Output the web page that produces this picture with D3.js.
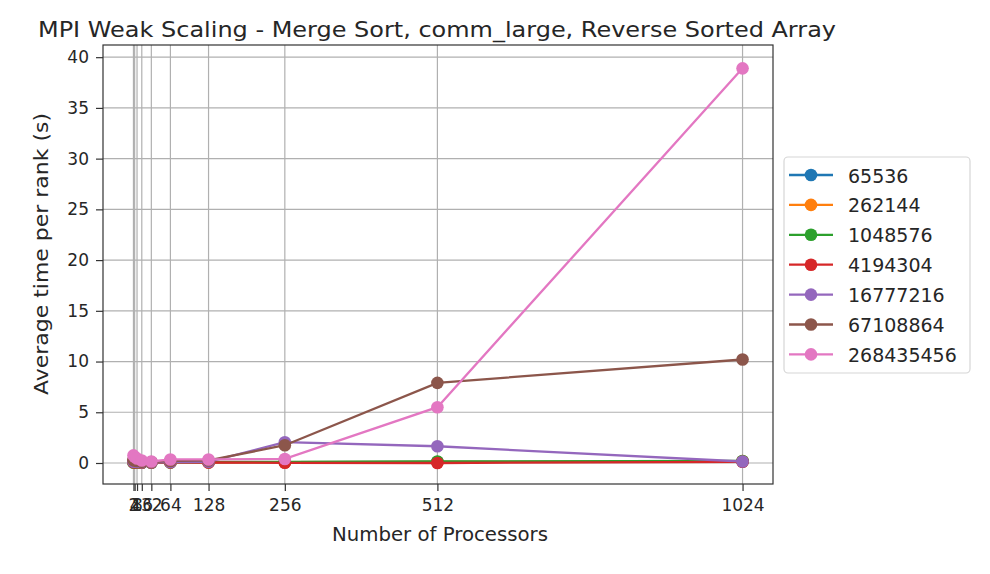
<!DOCTYPE html>
<html>
<head>
<meta charset="utf-8">
<script src="https://cdn.jsdelivr.net/npm/d3@7"></script>
<style>
  body { margin: 0; background: #fff; }
  svg { font-family: "DejaVu Sans", sans-serif; }
</style>
</head>
<body>
<svg id="chart" width="990" height="574"></svg>
<script>
// processor counts on the x axis
const procs = [2, 4, 8, 16, 32, 64, 128, 256, 512, 1024];
const yTicks = [0, 5, 10, 15, 20, 25, 30, 35, 40];

// input sizes (legend) and their timings
const sizes = ["65536", "262144", "1048576", "4194304", "16777216", "67108864", "268435456"];
const colors = ["#1f77b4", "#ff7f0e", "#2ca02c", "#d62728", "#9467bd", "#8c564b", "#e377c2"];

const t65536     = [0.05, 0.04, 0.04, 0.03, 0.03, 0.05, 0.06, 0.08, 0.1, 0.15];
const t262144    = [0.06, 0.05, 0.05, 0.04, 0.04, 0.06, 0.07, 0.08, 0.1, 0.18];
const t1048576   = [0.08, 0.07, 0.06, 0.05, 0.05, 0.08, 0.1, 0.12, 0.15, 0.2];
const t4194304   = [0.1, 0.08, 0.07, 0.05, 0.05, 0.06, 0.05, 0.02, 0.0, 0.12];
const t16777216  = [0.15, 0.12, 0.1, 0.08, 0.07, 0.1, 0.12, 2.05, 1.65, 0.15];
const t67108864  = [0.3, 0.25, 0.2, 0.12, 0.1, 0.2, 0.25, 1.75, 7.9, 10.2];
const t268435456 = [0.75, 0.6, 0.45, 0.25, 0.15, 0.35, 0.35, 0.4, 5.5, 38.9];

const series = [t65536, t262144, t1048576, t4194304, t16777216, t67108864, t268435456];

const svg = d3.select("#chart");
const margin = { left: 103, right: 773, top: 45, bottom: 484 };
const ink = "#262626";

const x = d3.scaleLinear().domain([-49.1, 1075.1]).range([margin.left, margin.right]);
const y = d3.scaleLinear().domain([-2.07, 41.2]).range([margin.bottom, margin.top]);

// grid
const grid = svg.append("g");
grid.selectAll(".gx").data(procs).enter().append("line")
    .attr("x1", d => x(d)).attr("x2", d => x(d))
    .attr("y1", margin.top).attr("y2", margin.bottom)
    .attr("stroke", "#b0b0b0").attr("stroke-width", 1.2);
grid.selectAll(".gy").data(yTicks).enter().append("line")
    .attr("x1", margin.left).attr("x2", margin.right)
    .attr("y1", d => y(d)).attr("y2", d => y(d))
    .attr("stroke", "#b0b0b0").attr("stroke-width", 1.2);

// axes
const xAxis = d3.axisBottom(x).tickValues(procs).tickSize(7).tickPadding(8).tickFormat(d3.format("d"));
const yAxis = d3.axisLeft(y).tickValues(yTicks).tickSize(7).tickPadding(7);

function styleAxis(g) {
    g.attr("font-family", "DejaVu Sans").attr("font-size", 17);
    g.select(".domain").remove();
    g.selectAll("line").attr("stroke", "#333").attr("stroke-width", 1.2);
    g.selectAll("text").attr("fill", ink);
}

svg.append("g").attr("transform", `translate(0,${margin.bottom})`).call(xAxis).call(styleAxis);
svg.append("g").attr("transform", `translate(${margin.left},0)`).call(yAxis).call(styleAxis);

// lines
const line = d3.line().x((d, i) => x(procs[i])).y(d => y(d));
const plot = svg.append("g");
series.forEach((s, k) => {
    plot.append("path").datum(s)
        .attr("d", line)
        .attr("fill", "none")
        .attr("stroke", colors[k])
        .attr("stroke-width", 2.3);
    plot.selectAll(".m" + k).data(s).enter().append("circle")
        .attr("cx", (d, i) => x(procs[i]))
        .attr("cy", d => y(d))
        .attr("r", 6.3)
        .attr("fill", colors[k]);
});

// frame
svg.append("rect")
    .attr("x", margin.left).attr("y", margin.top)
    .attr("width", margin.right - margin.left).attr("height", margin.bottom - margin.top)
    .attr("fill", "none").attr("stroke", "#333").attr("stroke-width", 1.2);

// labels
svg.append("text").attr("x", 437).attr("y", 37).attr("text-anchor", "middle")
    .attr("font-size", 22).attr("fill", ink)
    .attr("textLength", 798).attr("lengthAdjust", "spacingAndGlyphs")
    .text("MPI Weak Scaling - Merge Sort, comm_large, Reverse Sorted Array");
svg.append("text").attr("x", 440).attr("y", 541).attr("text-anchor", "middle")
    .attr("font-size", 20).attr("fill", ink)
    .attr("textLength", 216).attr("lengthAdjust", "spacingAndGlyphs")
    .text("Number of Processors");
svg.append("text").attr("transform", "translate(48,254) rotate(-90)").attr("text-anchor", "middle")
    .attr("font-size", 20).attr("fill", ink)
    .attr("textLength", 282).attr("lengthAdjust", "spacingAndGlyphs")
    .text("Average time per rank (s)");

// legend
const legend = svg.append("g");
legend.append("rect")
    .attr("x", 784).attr("y", 157).attr("width", 186).attr("height", 216)
    .attr("rx", 4).attr("fill", "#fff").attr("stroke", "#d6d6d6").attr("stroke-width", 1.2);
sizes.forEach((name, k) => {
    const ly = 175 + k * 29.9;
    legend.append("line").attr("x1", 789).attr("x2", 833).attr("y1", ly).attr("y2", ly)
        .attr("stroke", colors[k]).attr("stroke-width", 2.3);
    legend.append("circle").attr("cx", 811).attr("cy", ly).attr("r", 6.3).attr("fill", colors[k]);
    legend.append("text").attr("x", 848).attr("y", ly + 7.5)
        .attr("font-size", 19).attr("fill", ink).text(name);
});
</script>
</body>
</html>
